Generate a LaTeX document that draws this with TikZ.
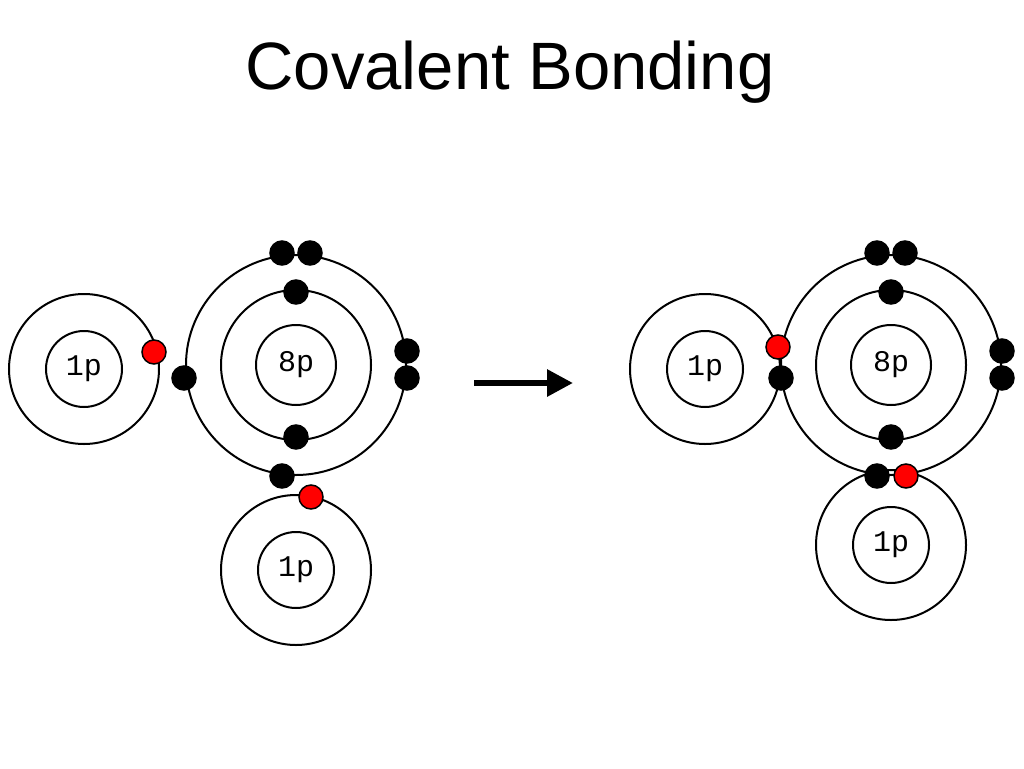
\documentclass[tikz,border=0pt]{standalone}
\usetikzlibrary{arrows.meta}
\usepackage{fontspec}
\setmainfont{Liberation Sans}
\newfontfamily\cour{Liberation Mono}
\begin{document}
\begin{tikzpicture}[x=1pt,y=-1pt,
 orb/.style={draw,line width=2pt,circle,inner sep=0pt},
 el/.style={circle,draw,line width=1.5pt,fill=black,minimum size=24pt,inner sep=0pt},
 rel/.style={el,fill=red},
 lab/.style={font=\cour\fontsize{30}{32}\selectfont}]
\useasboundingbox (0,0) rectangle (1024,768);
\node[font=\fontsize{67}{70}\selectfont] (t) at (510,72) {Covalent Bonding};
\newcommand{\hatom}[3]{%
 \node[orb,minimum size=76pt,lab] (#3i) at (#1,#2) {1p};
 \node[orb,minimum size=150pt] (#3o) at (#1,#2) {};}
\newcommand{\oatom}[3]{%
 \node[orb,minimum size=80pt,lab] (#3i) at (#1,#2) {8p};
 \node[orb,minimum size=150pt] (#3m) at (#1,#2) {};
 \node[orb,minimum size=220pt] (#3o) at (#1,#2) {};}
% left
\hatom{84}{369}{ha}
\oatom{296}{365}{oa}
\hatom{296}{570}{hb}
\foreach \p/\n in {{282,253}/a1,{310,253}/a2,{296,292}/a3,{296,437}/a4,{184,378}/a5,{407,351}/a6,{407,378}/a7,{282,476}/a8}
 \node[el] (\n) at (\p) {};
\node[rel] (ar1) at (154,352) {};
\node[rel] (ar2) at (311,497) {};
% arrow
\coordinate (s) at (474,383); \coordinate (e) at (573,383);
\draw[line width=6pt,-{Triangle[length=26pt,width=26pt]}] (s) -- (e);
% right
\hatom{705}{369}{hc}
\oatom{891}{365}{ob}
\hatom{891}{545}{hd}
\foreach \p/\n in {{877,253}/b1,{905,253}/b2,{891,292}/b3,{891,437}/b4,{781,378}/b5,{1002,351}/b6,{1002,378}/b7,{877,476}/b8}
 \node[el] (\n) at (\p) {};
\node[rel] (br1) at (778,347) {};
\node[rel] (br2) at (906,476) {};
\end{tikzpicture}
\end{document}
